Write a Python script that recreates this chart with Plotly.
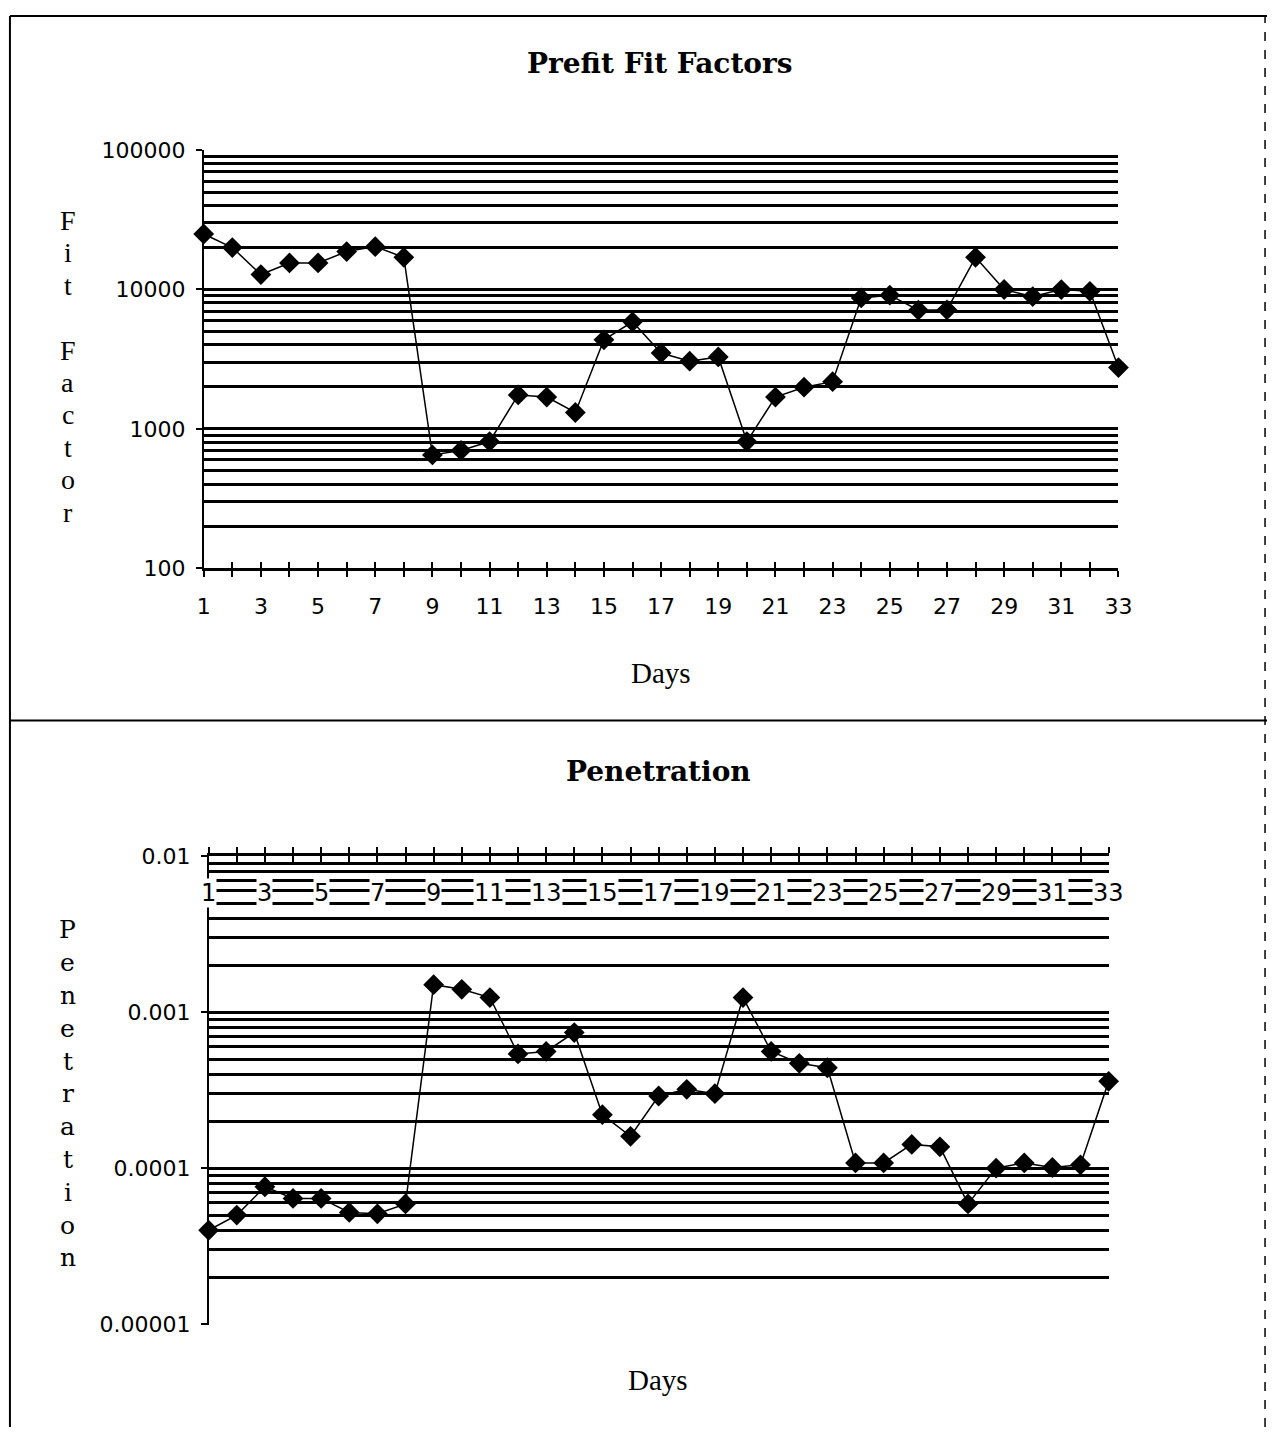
import math
import plotly.graph_objects as go

# ---------------- data ----------------
days = list(range(1, 34))
fit_factor = [25000, 20000, 12800, 15500, 15500, 18700, 20300, 17000, 650, 700,
              810, 1750, 1690, 1310, 4350, 5860, 3500, 3060, 3280, 810,
              1690, 1990, 2180, 8700, 9100, 7100, 7150, 17000, 10000, 8900,
              9980, 9700, 2750]
penetration = [4.0e-5, 5.0e-5, 7.6e-5, 6.4e-5, 6.4e-5, 5.2e-5, 5.1e-5, 5.9e-5, 1.5e-3, 1.4e-3,
               1.24e-3, 5.4e-4, 5.6e-4, 7.4e-4, 2.2e-4, 1.6e-4, 2.9e-4, 3.2e-4, 3.0e-4, 1.24e-3,
               5.6e-4, 4.7e-4, 4.4e-4, 1.08e-4, 1.08e-4, 1.42e-4, 1.37e-4, 5.9e-5, 1.0e-4, 1.08e-4,
               1.01e-4, 1.05e-4, 3.6e-4]
ff_tickvals = [100, 1000, 10000, 100000]
ff_ticktext = ["100", "1000", "10000", "100000"]
pen_tickvals = [1e-5, 1e-4, 1e-3, 1e-2]
pen_ticktext = ["0.00001", "0.0001", "0.001", "0.01"]
day_labels = [str(d) if d % 2 == 1 else "" for d in days]

W, H = 1281, 1440
def px(x): return x / W
def py(y): return 1 - y / H

def minor_vals(decades):
    return [m * 10 ** e for e in decades for m in range(2, 10)]

BLACK = "black"
TICKFONT = dict(family="DejaVu Sans", size=22, color=BLACK)

fig = go.Figure()
marker = dict(symbol="diamond", size=16, color=BLACK)
line = dict(color=BLACK, width=1.5)

fig.add_trace(go.Scatter(x=days, y=fit_factor, xaxis="x", yaxis="y", mode="lines+markers",
                         marker=marker, line=line, cliponaxis=False, showlegend=False))
fig.add_trace(go.Scatter(x=days, y=penetration, xaxis="x2", yaxis="y2", mode="lines+markers",
                         marker=marker, line=line, cliponaxis=False, showlegend=False))
# helper traces for the inward half of the cross-shaped ticks
fig.add_trace(go.Scatter(x=days, y=fit_factor, xaxis="x3", yaxis="y", mode="none",
                         hoverinfo="skip", showlegend=False))
fig.add_trace(go.Scatter(x=days, y=penetration, xaxis="x4", yaxis="y2", mode="none",
                         hoverinfo="skip", showlegend=False))

grid = dict(showgrid=True, gridcolor=BLACK, gridwidth=2.5)

fig.update_layout(
    width=W, height=H, margin=dict(l=0, r=0, t=0, b=0),
    paper_bgcolor="white", plot_bgcolor="white", showlegend=False,
    xaxis=dict(domain=[px(200), px(1130)], range=[1, 33], anchor="y",
               showline=True, linecolor=BLACK, linewidth=3, showgrid=False, zeroline=False,
               ticks="outside", ticklen=6, tickwidth=1.5, tickcolor=BLACK,
               tickmode="array", tickvals=days, ticktext=day_labels,
               tickfont=TICKFONT, ticklabelstandoff=10),
    xaxis3=dict(overlaying="x", range=[1, 33], anchor="y", side="bottom",
                showline=False, showgrid=False, zeroline=False,
                ticks="inside", ticklen=6, tickwidth=1.5, tickcolor=BLACK,
                tickmode="array", tickvals=days, showticklabels=False),
    yaxis=dict(domain=[py(566), py(140)], type="log", range=[2, 5.004], anchor="x",
               showline=True, linecolor=BLACK, linewidth=1.5, zeroline=False,
               ticks="outside", ticklen=6, tickwidth=1.5, tickcolor=BLACK,
               tickmode="array", tickvals=ff_tickvals, ticktext=ff_ticktext,
               tickfont=TICKFONT, ticklabelstandoff=6,
               minor=dict(tickmode="array", tickvals=minor_vals([2, 3, 4]), ticks="",
                          **grid),
               **grid),
    xaxis2=dict(domain=[px(205), px(1120)], range=[1, 33], anchor="y2", side="top",
                showline=True, linecolor=BLACK, linewidth=3, showgrid=False, zeroline=False,
                ticks="outside", ticklen=6, tickwidth=1.5, tickcolor=BLACK,
                tickmode="array", tickvals=days, showticklabels=False),
    xaxis4=dict(overlaying="x2", range=[1, 33], anchor="y2", side="top",
                showline=False, showgrid=False, zeroline=False,
                ticks="inside", ticklen=6, tickwidth=1.5, tickcolor=BLACK,
                tickmode="array", tickvals=days, showticklabels=False),
    yaxis2=dict(domain=[py(1336), py(859)], type="log", range=[-5.004, -2], anchor="x2",
                showline=True, linecolor=BLACK, linewidth=1.5, zeroline=False,
                ticks="outside", ticklen=6, tickwidth=1.5, tickcolor=BLACK,
                tickmode="array", tickvals=pen_tickvals, ticktext=pen_ticktext,
                tickfont=TICKFONT, ticklabelstandoff=6,
                minor=dict(tickmode="array", tickvals=minor_vals([-5, -4, -3]), ticks="",
                           **grid),
                **grid),
)

def text_ann(x, y, text, font, **kw):
    d = dict(x=x, y=y, xref="paper", yref="paper", text=text, showarrow=False,
             xanchor="center", yanchor="middle", font=font)
    d.update(kw)
    return d

ann = []
# day labels of the lower chart (drawn inside the plot, masking the grid like the original)
label_y = -2 - (897 - 859) / 159
for d, lab in zip(days, day_labels):
    if lab:
        ann.append(text_ann(d, label_y, lab, dict(family="DejaVu Sans", size=24, color=BLACK),
                            xref="x2", yref="y2", bgcolor="white", borderpad=0))

# titles
ann.append(text_ann(px(664), py(52), "<b>Prefit Fit Factors</b>",
                    dict(family="DejaVu Serif", size=28, color=BLACK)))
ann.append(text_ann(px(662), py(773), "<b>Penetration</b>",
                    dict(family="DejaVu Serif", size=28, color=BLACK)))
ann.append(text_ann(px(665), py(673), "Days", dict(family="Liberation Serif", size=29, color=BLACK)))
ann.append(text_ann(px(662), py(1392), "Days", dict(family="Liberation Serif", size=29, color=BLACK)))

# vertical axis titles, one letter per line
for i, ch in enumerate("Fit Factor"):
    if ch != " ":
        ann.append(text_ann(px(62), py(212 + i * 33), ch,
                            dict(family="Liberation Serif", size=28, color=BLACK)))
for i, ch in enumerate("Penetration"):
    ann.append(text_ann(px(62), py(934 + i * 33.4), ch,
                        dict(family="DejaVu Serif", size=25, color=BLACK)))
fig.update_layout(annotations=ann)

# page frame
shapes = [
    dict(type="line", xref="paper", yref="paper", x0=px(3), x1=1, y0=py(4), y1=py(4),
         line=dict(color=BLACK, width=2)),
    dict(type="line", xref="paper", yref="paper", x0=px(3), x1=px(3), y0=0, y1=py(4),
         line=dict(color=BLACK, width=2)),
    dict(type="line", xref="paper", yref="paper", x0=px(3), x1=1, y0=py(721), y1=py(721),
         line=dict(color=BLACK, width=2)),
    dict(type="line", xref="paper", yref="paper", x0=px(1279), x1=px(1279), y0=0, y1=py(4),
         line=dict(color=BLACK, width=1.5, dash="dash")),
]
fig.update_layout(shapes=shapes)

post = ("document.documentElement.style.overflow='hidden';"
        "document.body.style.margin='0';"
        "var gd=document.getElementById('{plot_id}');"
        "gd.style.position='fixed';gd.style.left='0px';gd.style.top='0px';")
fig.write_html("out.html", config={"displayModeBar": False}, post_script=post)
